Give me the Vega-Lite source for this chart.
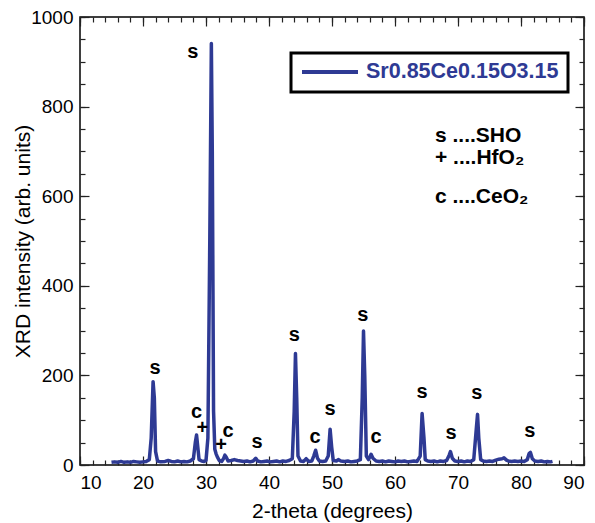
{
  "$schema": "https://vega.github.io/schema/vega-lite/v6.json",
  "width": 504,
  "height": 448,
  "autosize": "none",
  "padding": {"left": 80, "top": 17, "right": 11, "bottom": 58},
  "background": "white",
  "config": {
    "font": "Liberation Sans",
    "view": {"stroke": "black", "strokeWidth": 1.5},
    "axis": {"grid": false, "domain": false, "labelFontSize": 19, "labelColor": "black", "titleFontSize": 21, "titleFontWeight": "normal", "titleColor": "black", "tickColor": "#222", "tickWidth": 1.2, "labelFont": "Liberation Sans", "titleFont": "Liberation Sans", "format": "d"},
    "legend": {"strokeWidth": 3}
  },
  "datasets": {
    "xrd": [
      {"x":15.0,"y":6},{"x":15.5,"y":7},{"x":16,"y":6},{"x":16.5,"y":8},{"x":17,"y":6},{"x":17.5,"y":7},{"x":18,"y":6},{"x":18.5,"y":8},{"x":19,"y":7},{"x":19.5,"y":6},{"x":20,"y":7},{"x":20.5,"y":8},
      {"x":21.0,"y":12},{"x":21.3,"y":60},{"x":21.6,"y":186},{"x":21.8,"y":150},{"x":22.0,"y":30},{"x":22.3,"y":9},{"x":22.8,"y":7},{"x":23.5,"y":8},{"x":24.0,"y":10},{"x":24.5,"y":8},{"x":25,"y":7},{"x":25.5,"y":9},{"x":26,"y":7},{"x":26.5,"y":8},{"x":27,"y":7},{"x":27.5,"y":9},
      {"x":28.0,"y":14},{"x":28.3,"y":50},{"x":28.5,"y":67},{"x":28.7,"y":40},{"x":28.9,"y":12},{"x":29.3,"y":9},{"x":29.7,"y":8},{"x":30.0,"y":10},
      {"x":30.3,"y":60},{"x":30.6,"y":500},{"x":30.85,"y":941},{"x":31.0,"y":700},{"x":31.2,"y":120},{"x":31.4,"y":35},{"x":31.6,"y":25},{"x":31.8,"y":18},{"x":32.1,"y":10},{"x":32.5,"y":8},
      {"x":32.8,"y":15},{"x":33.0,"y":22},{"x":33.2,"y":18},{"x":33.5,"y":9},{"x":34,"y":10},{"x":34.5,"y":12},{"x":35,"y":10},{"x":35.5,"y":9},{"x":36,"y":8},{"x":36.5,"y":9},{"x":37,"y":7},{"x":37.5,"y":9},
      {"x":37.9,"y":15},{"x":38.2,"y":9},{"x":38.7,"y":7},{"x":39.2,"y":8},{"x":39.7,"y":9},{"x":40.2,"y":7},{"x":40.7,"y":8},{"x":41.2,"y":9},{"x":41.7,"y":7},{"x":42.2,"y":9},{"x":42.7,"y":8},{"x":43.2,"y":10},
      {"x":43.7,"y":14},{"x":44.0,"y":120},{"x":44.2,"y":249},{"x":44.4,"y":150},{"x":44.6,"y":20},{"x":45,"y":9},{"x":45.5,"y":8},{"x":45.9,"y":14},{"x":46.3,"y":8},{"x":46.8,"y":9},
      {"x":47.1,"y":20},{"x":47.4,"y":33},{"x":47.7,"y":15},{"x":48,"y":9},{"x":48.5,"y":8},{"x":49,"y":9},{"x":49.4,"y":20},{"x":49.7,"y":80},{"x":49.95,"y":40},{"x":50.2,"y":10},{"x":50.7,"y":9},{"x":51.0,"y":12},{"x":51.4,"y":9},
      {"x":52,"y":8},{"x":52.5,"y":9},{"x":53,"y":7},{"x":53.5,"y":8},{"x":54,"y":9},{"x":54.5,"y":12},{"x":54.8,"y":150},{"x":55.0,"y":299},{"x":55.2,"y":200},{"x":55.45,"y":20},{"x":55.8,"y":12},{"x":56.2,"y":24},{"x":56.5,"y":15},
      {"x":57,"y":9},{"x":57.5,"y":8},{"x":58,"y":9},{"x":58.5,"y":7},{"x":59,"y":9},{"x":59.5,"y":8},{"x":60,"y":7},{"x":60.5,"y":9},{"x":61,"y":8},{"x":61.5,"y":9},{"x":62,"y":7},{"x":62.5,"y":8},{"x":63,"y":9},{"x":63.5,"y":8},
      {"x":64.0,"y":20},{"x":64.3,"y":115},{"x":64.6,"y":60},{"x":64.8,"y":12},{"x":65.2,"y":9},{"x":65.7,"y":8},{"x":66.2,"y":9},{"x":66.7,"y":7},{"x":67.2,"y":9},{"x":67.7,"y":8},{"x":68.2,"y":10},
      {"x":68.6,"y":22},{"x":68.8,"y":30},{"x":69.1,"y":15},{"x":69.5,"y":9},{"x":70,"y":8},{"x":70.5,"y":9},{"x":71,"y":7},{"x":71.5,"y":9},{"x":72,"y":8},{"x":72.5,"y":12},
      {"x":72.9,"y":80},{"x":73.1,"y":113},{"x":73.3,"y":60},{"x":73.6,"y":12},{"x":74,"y":9},{"x":74.5,"y":8},{"x":75,"y":9},{"x":75.5,"y":8},{"x":76,"y":11},{"x":76.5,"y":13},{"x":77,"y":14},{"x":77.3,"y":16},{"x":77.7,"y":11},
      {"x":78,"y":9},{"x":78.5,"y":8},{"x":79,"y":9},{"x":79.5,"y":8},{"x":80,"y":9},{"x":80.5,"y":8},{"x":81.0,"y":12},{"x":81.3,"y":26},{"x":81.5,"y":28},{"x":81.8,"y":14},{"x":82.2,"y":9},{"x":82.7,"y":8},{"x":83.2,"y":9},{"x":83.7,"y":7},{"x":84.2,"y":8},{"x":84.7,"y":7},{"x":85,"y":8}
    ],
    "peaks": [
      {"x":27.9,"y":908,"t":"s"},
      {"x":21.9,"y":203,"t":"s"},
      {"x":28.5,"y":106,"t":"c"},
      {"x":29.4,"y":69,"t":"+"},
      {"x":32.4,"y":32,"t":"+"},
      {"x":33.5,"y":63,"t":"c"},
      {"x":38.1,"y":37,"t":"s"},
      {"x":44.0,"y":277,"t":"s"},
      {"x":47.3,"y":50,"t":"c"},
      {"x":49.7,"y":112,"t":"s"},
      {"x":54.9,"y":322,"t":"s"},
      {"x":57.0,"y":48,"t":"c"},
      {"x":64.3,"y":149,"t":"s"},
      {"x":68.9,"y":59,"t":"s"},
      {"x":73.0,"y":148,"t":"s"},
      {"x":81.4,"y":62,"t":"s"}
    ],
    "key": [
      {"x":66.35,"y":722,"t":"s ....SHO"},
      {"x":66.35,"y":672,"t":"+ ....HfO₂"},
      {"x":66.35,"y":585,"t":"c ....CeO₂"}
    ]
  },
  "layer": [
    {
      "data": {"name": "xrd"},
      "mark": {"type": "line", "strokeWidth": 3.5, "strokeJoin": "round"},
      "encoding": {
        "x": {"field": "x", "type": "quantitative", "scale": {"domain": [10, 90], "nice": false, "zero": false},
              "axis": {"orient": "bottom", "values": [10,20,30,40,50,60,70,80,90], "tickSize": -9, "labelPadding": 17, "title": "2-theta (degrees)", "titleY": 35}},
        "y": {"field": "y", "type": "quantitative", "scale": {"domain": [0, 1000], "nice": false},
              "axis": {"orient": "left", "values": [0,200,400,600,800,1000], "tickSize": -9, "labelPadding": 16, "title": "XRD intensity (arb. units)", "titleX": -47, "titleY": 224}},
        "color": {"datum": "Sr0.85Ce0.15O3.15", "type": "nominal", "scale": {"range": ["#2e3a94"]},
                  "legend": {"title": null, "orient": "none", "legendX": 211, "legendY": 36, "symbolType": "stroke", "symbolSize": 3136, "symbolStrokeWidth": 4, "clipHeight": 20, "labelFontSize": 21.5, "labelFontWeight": "bold", "labelColor": "#2e3a94", "labelFont": "Liberation Sans", "strokeColor": "black", "padding": 9, "labelOffset": 6, "labelLimit": 400}}
      }
    },
    {
      "data": {"name": "peaks"},
      "mark": {"type": "text", "fontSize": 20, "fontWeight": "bold", "align": "center", "baseline": "alphabetic", "color": "black", "font": "Liberation Sans"},
      "encoding": {
        "x": {"field": "x", "type": "quantitative", "scale": {"domain": [10, 90], "nice": false, "zero": false},
              "axis": {"orient": "bottom", "values": [10,12,14,16,18,20,22,24,26,28,30,32,34,36,38,40,42,44,46,48,50,52,54,56,58,60,62,64,66,68,70,72,74,76,78,80,82,84,86,88,90], "tickSize": -5, "labels": false, "title": null}},
        "y": {"field": "y", "type": "quantitative", "scale": {"domain": [0, 1000], "nice": false},
              "axis": {"orient": "left", "values": [0,50,100,150,200,250,300,350,400,450,500,550,600,650,700,750,800,850,900,950,1000], "tickSize": -5, "labels": false, "title": null}},
        "text": {"field": "t"}
      }
    },
    {
      "data": {"name": "key"},
      "mark": {"type": "text", "fontSize": 21, "fontWeight": "bold", "align": "left", "baseline": "alphabetic", "color": "black", "font": "Liberation Sans"},
      "encoding": {
        "x": {"field": "x", "type": "quantitative", "scale": {"domain": [10, 90], "nice": false, "zero": false},
              "axis": {"orient": "top", "values": [10,20,30,40,50,60,70,80,90], "tickSize": -9, "labels": false, "title": null}},
        "y": {"field": "y", "type": "quantitative", "scale": {"domain": [0, 1000], "nice": false},
              "axis": {"orient": "right", "values": [0,200,400,600,800,1000], "tickSize": -9, "labels": false, "title": null}},
        "text": {"field": "t"}
      }
    },
    {
      "data": {"name": "key"},
      "mark": {"type": "point", "opacity": 0},
      "encoding": {
        "x": {"field": "x", "type": "quantitative", "scale": {"domain": [10, 90], "nice": false, "zero": false},
              "axis": {"orient": "top", "values": [10,12,14,16,18,20,22,24,26,28,30,32,34,36,38,40,42,44,46,48,50,52,54,56,58,60,62,64,66,68,70,72,74,76,78,80,82,84,86,88,90], "tickSize": -5, "labels": false, "title": null}},
        "y": {"field": "y", "type": "quantitative", "scale": {"domain": [0, 1000], "nice": false},
              "axis": {"orient": "right", "values": [0,50,100,150,200,250,300,350,400,450,500,550,600,650,700,750,800,850,900,950,1000], "tickSize": -5, "labels": false, "title": null}}
      }
    }
  ],
  "resolve": {"axis": {"x": "independent", "y": "independent"}}
}
